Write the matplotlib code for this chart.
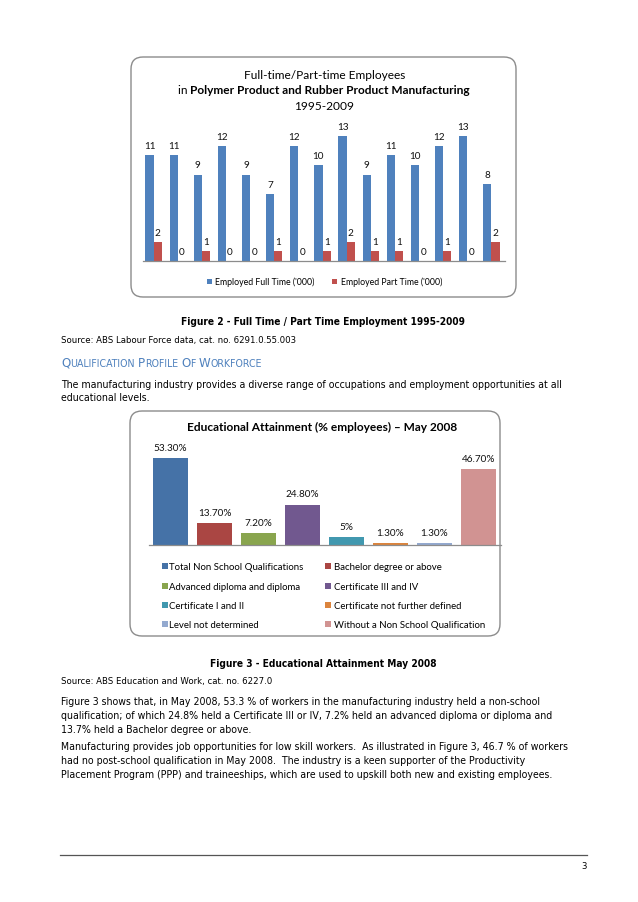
import matplotlib
matplotlib.use('Agg')
import matplotlib.pyplot as plt
from matplotlib.patches import FancyBboxPatch, Rectangle
from matplotlib.font_manager import FontProperties, fontManager
import numpy as np

# ---------------- data ----------------
years = list(range(1995, 2010))
full_time = [11, 11, 9, 12, 9, 7, 12, 10, 13, 9, 11, 10, 12, 13, 8]
part_time = [2, 0, 1, 0, 0, 1, 0, 1, 2, 1, 1, 0, 1, 0, 2]
series_names = ["Employed Full Time ('000)", "Employed Part Time ('000)"]

edu_categories = ["Total Non School Qualifications", "Bachelor degree or above",
                  "Advanced diploma and diploma", "Certificate III and IV",
                  "Certificate I and II", "Certificate not further defined",
                  "Level not determined", "Without a Non School Qualification"]
edu_values = [53.3, 13.7, 7.2, 24.8, 5, 1.3, 1.3, 46.7]
edu_labels = ["53.30%", "13.70%", "7.20%", "24.80%", "5%", "1.30%", "1.30%", "46.70%"]

# ---------------- setup ----------------
W, H, DPI = 638, 903, 100
fig = plt.figure(figsize=(W / DPI, H / DPI), dpi=DPI)
fig.patch.set_facecolor('white')
bg = fig.add_axes([0, 0, 1, 1])
bg.set_xlim(0, W)
bg.set_ylim(H, 0)
bg.axis('off')
renderer = fig.canvas.get_renderer()

# body font (Tahoma-like)
body_reg = None
body_bold = None
for f in fontManager.ttflist:
    fn = f.fname.lower()
    if 'dejavusanscondensed' in fn.replace('-', '').replace('_', ''):
        if 'bold' in fn and 'oblique' not in fn and body_bold is None:
            body_bold = f.fname
        if 'bold' not in fn and 'oblique' not in fn and body_reg is None:
            body_reg = f.fname
if body_reg and body_bold:
    BODY = FontProperties(fname=body_reg)
    BODYB = FontProperties(fname=body_bold)
else:
    BODY = FontProperties(family='Liberation Sans')
    BODYB = FontProperties(family='Liberation Sans', weight='bold')
CHART = 'Lato'


def width_px(s, fp, size):
    t = bg.text(0, 0, s, fontproperties=fp, fontsize=size)
    w = t.get_window_extent(renderer=renderer).width
    t.remove()
    return w


def fit(s, fp, target):
    return 10 * target / width_px(s, fp, 10)


CH = FontProperties(family=CHART)
CHB = FontProperties(family=CHART, weight='bold')


def btext(x, y, s, fp, size, **kw):
    return bg.text(x, y, s, fontproperties=fp, fontsize=size, va='baseline', **kw)


# ---------------- chart 1 ----------------
box1 = FancyBboxPatch((131, 58), 385, 240, boxstyle='round,pad=0,rounding_size=12',
                      fc='white', ec='#8c8c8c', lw=1.0)
bg.add_patch(box1)
s_t1 = fit("Full-time/Part-time Employees", CH, 160)
btext(325, 79, "Full-time/Part-time Employees", CH, s_t1, ha='center')
# line 2 mixed regular + bold
p1 = "in "
p2 = "Polymer Product and Rubber Product Manufacturing"
w1 = width_px(p1, CH, s_t1)
w2 = width_px(p2, CHB, s_t1)
x0 = 324 - (w1 + w2) / 2
btext(x0, 94.5, p1, CH, s_t1, ha='left')
btext(x0 + w1, 94.5, p2, CHB, s_t1, ha='left')
btext(324, 110.5, "1995-2009", CH, s_t1, ha='center')

px_per = 9.6
base1 = 262
ax1 = fig.add_axes([143 / W, 1 - base1 / H, (505 - 143) / W, 14 * px_per / H])
ax1.set_facecolor('none')
x = np.arange(len(years))
bw = 0.34
b1 = ax1.bar(x - 0.23, full_time, bw, color='#4F81BD', label=series_names[0])
b2 = ax1.bar(x + 0.11, part_time, bw, color='#C0504D', label=series_names[1])
ax1.set_xlim(-0.5, len(years) - 0.5)
ax1.set_ylim(0, 14)
for sp in ['top', 'left', 'right']:
    ax1.spines[sp].set_visible(False)
ax1.spines['bottom'].set_color('#8c8c8c')
ax1.spines['bottom'].set_linewidth(0.9)
ax1.set_xticks([])
ax1.set_yticks([])
for xi, v in zip(x, full_time):
    ax1.annotate(str(v), (xi - 0.23, v), xytext=(0, 5.2), textcoords='offset points',
                 ha='center', va='baseline', fontsize=7.2, family=CHART, color='#111')
for xi, v in zip(x, part_time):
    ax1.annotate(str(v), (xi + 0.11, v), xytext=(0, 5.2), textcoords='offset points',
                 ha='center', va='baseline', fontsize=7.2, family=CHART, color='#111')

s_l1 = fit(series_names[0], CH, 99)
bg.add_patch(Rectangle((207, 279.5), 5, 5, fc='#4F81BD', ec='none'))
btext(215, 285, series_names[0], CH, s_l1)
bg.add_patch(Rectangle((332, 279.5), 5, 5, fc='#C0504D', ec='none'))
btext(341, 285, series_names[1], CH, s_l1)

# ---------------- page text 1 ----------------
s_body = fit("The manufacturing industry provides a diverse range of occupations and employment opportunities at all", BODY, 504)
s_cap = fit("Figure 2 - Full Time / Part Time Employment 1995-2009", BODYB, 282)
s_src = fit("Source: ABS Labour Force data, cat. no. 6291.0.55.003", BODY, 234)
btext(323, 325, "Figure 2 - Full Time / Part Time Employment 1995-2009", BODYB, s_cap, ha='center')
btext(61, 343, "Source: ABS Labour Force data, cat. no. 6291.0.55.003", BODY, s_src)

# small caps heading
pieces = [("Q", 1), ("UALIFICATION", 0), (" ", 0), ("P", 1), ("ROFILE", 0), (" ", 0),
          ("O", 1), ("F", 0), (" ", 0), ("W", 1), ("ORKFORCE", 0)]
big, small = 10.0, 8.0
sp_w = width_px("a a", BODY, small) - width_px("aa", BODY, small)
tot = 0
for s, b in pieces:
    tot += sp_w if s == " " else width_px(s, BODY, big if b else small)
scale = 202 / tot
xh = 61
for s, b in pieces:
    if s == " ":
        xh += sp_w * scale
        continue
    sz = (big if b else small) * scale
    btext(xh, 367, s, BODY, sz, color='#4F81BD')
    xh += width_px(s, BODY, sz)

btext(61, 388, "The manufacturing industry provides a diverse range of occupations and employment opportunities at all", BODY, s_body)
btext(61, 401, "educational levels.", BODY, s_body)

# ---------------- chart 2 ----------------
box2 = FancyBboxPatch((130, 412), 370, 225, boxstyle='round,pad=0,rounding_size=12',
                      fc='white', ec='#8c8c8c', lw=1.0)
bg.add_patch(box2)
s_t3 = fit("Educational Attainment (% employees) \u2013 May 2008", CHB, 271)
btext(322, 431, "Educational Attainment (% employees) \u2013 May 2008", CHB, s_t3, ha='center')

px2 = 1.632
base2 = 546
ax2 = fig.add_axes([148.5 / W, 1 - base2 / H, 352 / W, 60 * px2 / H])
ax2.set_facecolor('none')
edu_colors = ['#4572A7', '#AA4643', '#89A54E', '#71588F', '#4198AF', '#DB843D', '#93A9CF', '#D19392']
x2 = np.arange(len(edu_values))
ax2.bar(x2, edu_values, 0.8, color=edu_colors)
ax2.set_xlim(-0.5, len(edu_values) - 0.5)
ax2.set_ylim(0, 60)
for sp in ['top', 'left', 'right']:
    ax2.spines[sp].set_visible(False)
ax2.spines['bottom'].set_color('#8c8c8c')
ax2.spines['bottom'].set_linewidth(0.9)
ax2.set_xticks([])
ax2.set_yticks([])
for xi, v, lab in zip(x2, edu_values, edu_labels):
    ax2.annotate(lab, (xi, v), xytext=(0, 5.8), textcoords='offset points',
                 ha='center', va='baseline', fontsize=7.2, family=CHART, color='#111')

s_l2 = fit(edu_categories[0], CH, 134)
rows = [570, 590, 609, 628]
cols = [(162, 169), (325, 334)]
for i, (cat, col) in enumerate(zip(edu_categories, edu_colors)):
    r, c = divmod(i, 2)
    mx, tx = cols[c]
    bg.add_patch(Rectangle((mx, rows[r] - 6), 5.5, 5.5, fc=col, ec='none'))
    btext(tx, rows[r], cat, CH, s_l2)

# ---------------- page text 2 ----------------
btext(323, 667, "Figure 3 - Educational Attainment May 2008", BODYB, s_cap, ha='center')
btext(61, 684, "Source: ABS Education and Work, cat. no. 6227.0", BODY, s_src)
para1 = ["Figure 3 shows that, in May 2008, 53.3 % of workers in the manufacturing industry held a non-school",
         "qualification; of which 24.8% held a Certificate III or IV, 7.2% held an advanced diploma or diploma and",
         "13.7% held a Bachelor degree or above."]
para2 = ["Manufacturing provides job opportunities for low skill workers.  As illustrated in Figure 3, 46.7 % of workers",
         "had no post-school qualification in May 2008.  The industry is a keen supporter of the Productivity",
         "Placement Program (PPP) and traineeships, which are used to upskill both new and existing employees."]
for i, l in enumerate(para1):
    btext(61, 705 + 14 * i, l, BODY, s_body)
for i, l in enumerate(para2):
    btext(61, 750 + 14 * i, l, BODY, s_body)

bg.plot([60, 587], [856, 856], color='#555555', lw=0.9)
btext(587, 869, "3", BODY, s_src, ha='right')

fig.savefig('out.png', dpi=DPI, facecolor='white')
